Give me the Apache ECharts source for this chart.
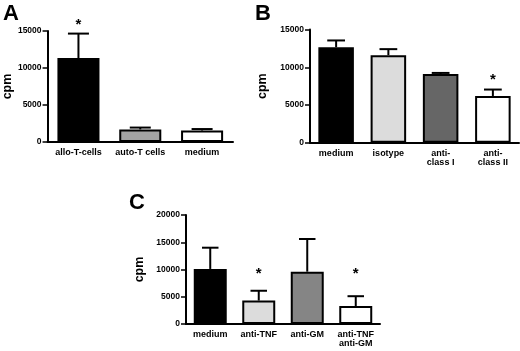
<!DOCTYPE html>
<html>
<head>
<meta charset="utf-8">
<script src="https://cdn.jsdelivr.net/npm/echarts@6/dist/echarts.min.js"></script>
<style>
  html, body { margin: 0; padding: 0; background: #fff; }
  #chart { width: 520px; height: 351px; }
</style>
</head>
<body>
<div id="chart"></div>
<script>
// panel A
const catsA = ['allo-T-cells', 'auto-T cells', 'medium']
const valsA = [11350, 1700, 1550]
const errA = [14650, 1950, 1750]
const colorsA = ['#000000', '#a3a3a3', '#ffffff']
const starsA = [15800, null, null]
const ticksA = [0, 5000, 10000, 15000]

// panel B
const catsB = ['medium', 'isotype', 'anti-\nclass I', 'anti-\nclass II']
const valsB = [12650, 11600, 9100, 6200]
const errB = [13550, 12400, 9250, 7050]
const colorsB = ['#000000', '#dcdcdc', '#666666', '#ffffff']
const starsB = [null, null, null, 8300]
const ticksB = [0, 5000, 10000, 15000]

// panel C
const catsC = ['medium', 'anti-TNF', 'anti-GM', 'anti-TNF\nanti-GM']
const valsC = [10100, 4300, 9600, 3300]
const errC = [14000, 6100, 15600, 5100]
const colorsC = ['#000000', '#dcdcdc', '#858585', '#ffffff']
const starsC = [null, 9200, null, 9200]
const ticksC = [0, 5000, 10000, 15000, 20000]

const FONT = '"Liberation Sans", Arial, sans-serif'

const chart = echarts.init(document.getElementById('chart'))

function xAxisFor(idx, cats) {
  return {
    type: 'category',
    gridIndex: idx,
    data: cats,
    axisLine: { lineStyle: { color: '#000', width: 2 } },
    axisTick: { alignWithLabel: true, length: 4, lineStyle: { color: '#000', width: 1.5 } },
    axisLabel: { color: '#000', fontFamily: FONT, fontWeight: 'bold', fontSize: 9, margin: 6, lineHeight: 9, interval: 0 },
  }
}

function yAxisFor(idx, ticks, gap) {
  return {
    type: 'value',
    gridIndex: idx,
    min: ticks[0],
    max: ticks[ticks.length - 1],
    interval: ticks[1] - ticks[0],
    name: 'cpm',
    nameLocation: 'middle',
    nameGap: gap,
    nameTextStyle: { color: '#000', fontFamily: FONT, fontWeight: 'bold', fontSize: 12.5 },
    splitLine: { show: false },
    axisLine: { show: true, lineStyle: { color: '#000', width: 2 } },
    axisTick: { show: true, length: 5, lineStyle: { color: '#000', width: 1.5 } },
    axisLabel: {
      color: '#000', fontFamily: FONT, fontWeight: 'bold', fontSize: 8.5, margin: 6,
      formatter: v => String(v),
    },
  }
}

function barsFor(idx, vals, colors) {
  return {
    type: 'bar',
    xAxisIndex: idx,
    yAxisIndex: idx,
    barWidth: '68%',
    data: vals.map((v, i) => ({
      value: v,
      itemStyle: { color: colors[i], borderColor: '#000', borderWidth: 2 },
    })),
    z: 3,
  }
}

function errorsFor(idx, vals, errs) {
  return {
    type: 'custom',
    xAxisIndex: idx,
    yAxisIndex: idx,
    data: vals.map((v, i) => [i, v, errs[i]]),
    z: 2,
    renderItem: (params, api) => {
      const base = api.coord([api.value(0), api.value(1)])
      const top = api.coord([api.value(0), api.value(2)])
      const half = api.size([1, 0])[0] * 0.17
      const style = { stroke: '#000', lineWidth: 2 }
      return {
        type: 'group',
        children: [
          { type: 'line', shape: { x1: base[0], y1: base[1], x2: top[0], y2: top[1] }, style },
          { type: 'line', shape: { x1: top[0] - half, y1: top[1], x2: top[0] + half, y2: top[1] }, style },
        ],
      }
    },
  }
}

function starsFor(idx, stars) {
  return {
    type: 'custom',
    xAxisIndex: idx,
    yAxisIndex: idx,
    data: stars.map((s, i) => [i, s]).filter(d => d[1] != null),
    z: 4,
    renderItem: (params, api) => {
      const p = api.coord([api.value(0), api.value(1)])
      return {
        type: 'text',
        x: p[0],
        y: p[1],
        style: {
          text: '*',
          fill: '#000',
          font: 'bold 15px ' + FONT,
          align: 'center',
          verticalAlign: 'middle',
        },
      }
    },
  }
}

const letterStyle = (txt, x, y) => ({
  type: 'text',
  left: x,
  top: y,
  style: { text: txt, fill: '#000', font: 'bold 22px ' + FONT },
})

const options = {
  backgroundColor: '#fff',
  animation: false,
  grid: [
    { left: 45, top: 31, width: 188, height: 111 },
    { left: 310, top: 29.5, width: 209, height: 113.3 },
    { left: 186, top: 215, width: 194, height: 109 },
  ],
  xAxis: [xAxisFor(0, catsA), xAxisFor(1, catsB), xAxisFor(2, catsC)],
  yAxis: [yAxisFor(0, ticksA, 31), yAxisFor(1, ticksB, 41), yAxisFor(2, ticksC, 40)],
  series: [
    errorsFor(0, valsA, errA), barsFor(0, valsA, colorsA), starsFor(0, starsA),
    errorsFor(1, valsB, errB), barsFor(1, valsB, colorsB), starsFor(1, starsB),
    errorsFor(2, valsC, errC), barsFor(2, valsC, colorsC), starsFor(2, starsC),
  ],
  graphic: [
    letterStyle('A', 3, 3),
    letterStyle('B', 255, 3),
    letterStyle('C', 129, 192),
  ],
}

chart.setOption(options)
</script>
</body>
</html>
